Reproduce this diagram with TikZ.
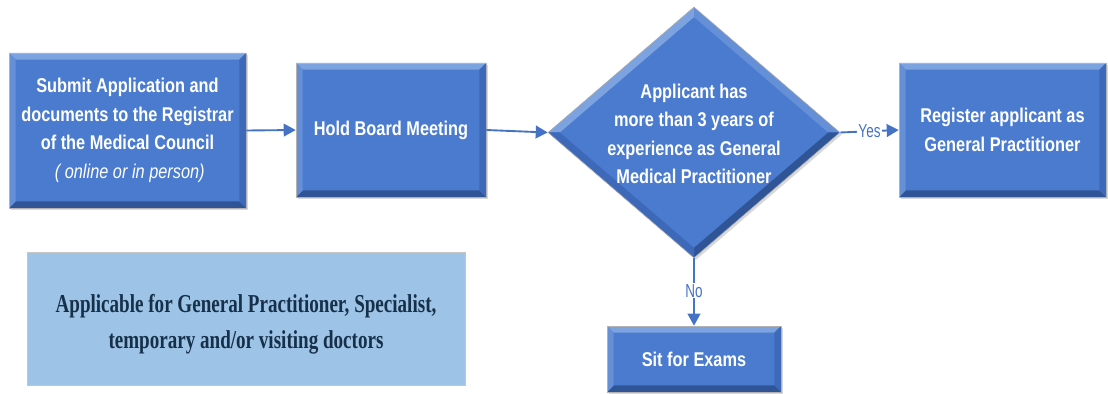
\documentclass[tikz,border=0pt]{standalone}
\usepackage{fontspec}
\setmainfont{Liberation Sans}
\newfontfamily\boxfont[FakeStretch=0.82]{Liberation Sans}
\newfontfamily\notefont[FakeStretch=0.74]{Liberation Serif}
\newfontfamily\lblfont[FakeStretch=0.72]{Liberation Sans}
\usetikzlibrary{shapes.geometric,arrows.meta,shadows}
\definecolor{boxblue}{HTML}{4A7BCF}
\definecolor{boxlight}{HTML}{7CA2E0}
\definecolor{boxdark}{HTML}{2F5597}
\definecolor{boxmid}{HTML}{3D69B8}
\definecolor{lineblue}{HTML}{4472C4}
\definecolor{notefill}{HTML}{9DC3E6}
\definecolor{notetext}{HTML}{17304A}
\newcommand{\bv}{0.2cm}
\tikzset{
  boxbevel/.style={path picture={
    \coordinate (pnw) at (path picture bounding box.north west);
    \coordinate (pne) at (path picture bounding box.north east);
    \coordinate (psw) at (path picture bounding box.south west);
    \coordinate (pse) at (path picture bounding box.south east);
    \fill[boxlight] (pnw) -- (pne) -- ([shift={(-\bv,-\bv)}]pne) -- ([shift={(\bv,-\bv)}]pnw) -- cycle;
    \fill[boxdark] (psw) -- (pse) -- ([shift={(-\bv,\bv)}]pse) -- ([shift={(\bv,\bv)}]psw) -- cycle;
    \fill[boxblue!85!white] (pnw) -- ([shift={(\bv,-\bv)}]pnw) -- ([shift={(\bv,\bv)}]psw) -- (psw) -- cycle;
    \fill[boxmid] (pne) -- ([shift={(-\bv,-\bv)}]pne) -- ([shift={(-\bv,\bv)}]pse) -- (pse) -- cycle;
  }},
  diabevel/.style={path picture={
    \coordinate (dn) at (path picture bounding box.north);
    \coordinate (de) at (path picture bounding box.east);
    \coordinate (ds) at (path picture bounding box.south);
    \coordinate (dw) at (path picture bounding box.west);
    \fill[boxlight] (dw) -- (dn) -- ([yshift=-0.3cm]dn) -- ([xshift=0.35cm]dw) -- cycle;
    \fill[boxblue!85!white] (dn) -- (de) -- ([xshift=-0.35cm]de) -- ([yshift=-0.3cm]dn) -- cycle;
    \fill[boxdark] (de) -- (ds) -- ([yshift=0.3cm]ds) -- ([xshift=-0.35cm]de) -- cycle;
    \fill[boxmid] (ds) -- (dw) -- ([xshift=0.35cm]dw) -- ([yshift=0.3cm]ds) -- cycle;
  }},
  boxtext/.style={text=white, align=center, inner sep=0pt,
    font=\boxfont\bfseries\fontsize{17}{24.3}\selectfont},
  procbox/.style={rectangle, fill=boxblue, draw=gray!60, line width=0.5pt,
    boxtext,
    drop shadow={shadow xshift=0.06cm, shadow yshift=-0.06cm, opacity=0.3},
    boxbevel},
  decision/.style={diamond, fill=boxblue, draw=gray!60, line width=0.5pt,
    inner sep=0pt, aspect=1.163,
    drop shadow={shadow xshift=0.06cm, shadow yshift=-0.06cm, opacity=0.3},
    diabevel},
  conn/.style={draw=lineblue, line width=1.6pt,
    -{Triangle[length=0.36cm,width=0.38cm]}},
  lbl/.style={fill=white, inner sep=1pt, text=lineblue,
    font=\lblfont\fontsize{16}{18}\selectfont},
}
\begin{document}
\begin{tikzpicture}[x=0.03cm,y=-0.03cm]
\path[use as bounding box] (0,0) rectangle (1108,394);

\node[procbox, minimum width=237*0.03cm, minimum height=155*0.03cm] (submit) at (127.5,130.5)
  {Submit Application and\\documents to the Registrar\\of the Medical Council\\
   {\mdseries\itshape \ ( online or in person)}};
\node[procbox, minimum width=190*0.03cm, minimum height=134*0.03cm] (board) at (391,130)
  {Hold Board Meeting};
\node[decision, minimum width=292*0.03cm, minimum height=251*0.03cm] (dec) at (694,132.5) {};
\node[boxtext] (dectext) at (694,134)
  {Applicant has\\more than 3 years of\\experience as General\\Medical Practitioner};
\node[procbox, minimum width=207*0.03cm, minimum height=134*0.03cm] (reg) at (1002.5,130)
  {Register applicant as\\General Practitioner};
\node[procbox, minimum width=174*0.03cm, minimum height=66*0.03cm] (exam) at (694,359)
  {Sit for Exams};

\node[rectangle, fill=notefill, draw=gray!45, line width=0.8pt,
  minimum width=438*0.03cm, minimum height=133*0.03cm] (note) at (246,318.5) {};
\node[align=center, text=notetext, inner sep=0pt,
  font=\notefont\bfseries\fontsize{22}{31}\selectfont] (notetext) at (246,324)
  {Applicable for General Practitioner, Specialist,\\temporary and/or visiting doctors};

\draw[conn] (submit.east) -- (board.west);
\draw[conn] (board.east) -- (dec.west);
\draw[conn] (dec.east) -- node[lbl, pos=0.5] {Yes} (reg.west);
\draw[conn] (dec.south) -- node[lbl, pos=0.48] {No} (exam.north);
\end{tikzpicture}
\end{document}
